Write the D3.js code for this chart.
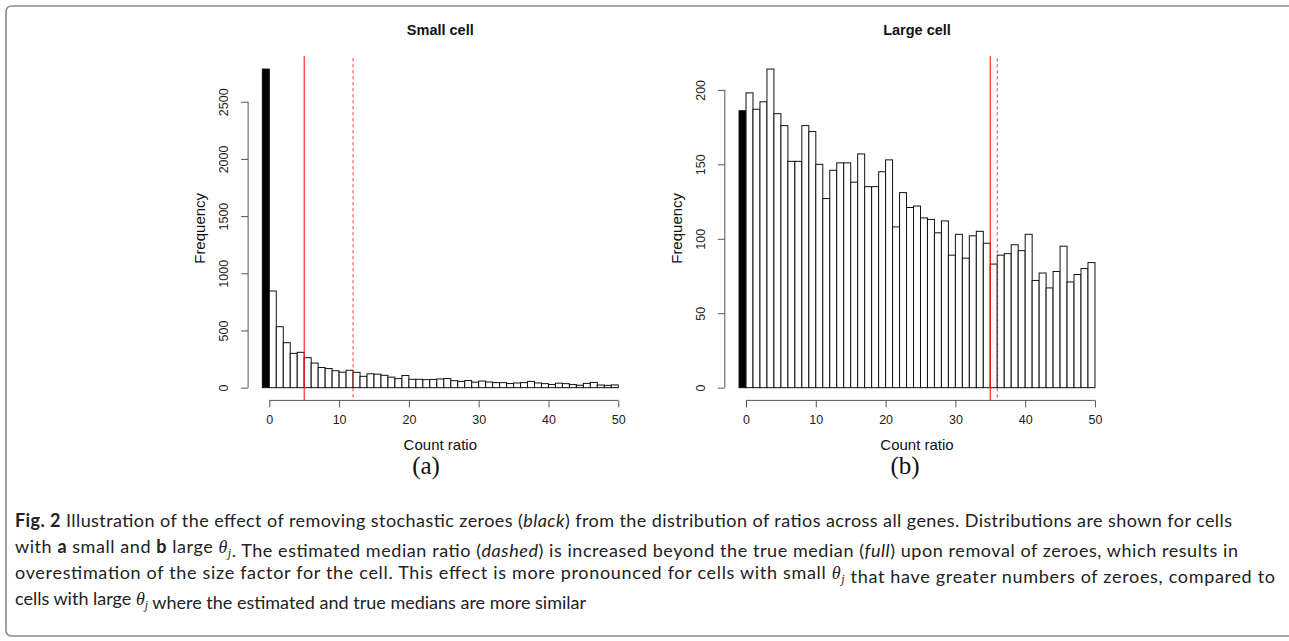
<!DOCTYPE html>
<html>
<head>
<meta charset="utf-8">
<script src="https://cdn.jsdelivr.net/npm/d3@7/dist/d3.min.js"></script>
<style>
  html, body { margin: 0; padding: 0; background: #fff; }
  svg { display: block; }
</style>
</head>
<body>
<svg id="fig" width="1289" height="641"></svg>
<script>
// ---------------- DATA ----------------
const panelTitles = ["Small cell", "Large cell"];
const panelLetters = ["(a)", "(b)"];
// Count of stochastic zeroes (black bar, bin [-1,0])
const smallZero = 2786;
const largeZero = 186;
// Frequencies for bins [0,1), [1,2), ... [49,50)
const smallCounts = [845, 533, 393, 300, 309, 262, 215, 176, 167, 148,
                     135, 152, 134, 99, 121, 118, 108, 92, 79, 106,
                     73, 73, 70, 72, 76, 80, 61, 55, 62, 48,
                     58, 49, 44, 44, 36, 41, 44, 55, 41, 35,
                     27, 39, 35, 27, 21, 37, 46, 23, 20, 24];
const largeCounts = [198, 187, 192, 214, 184, 176, 152, 152, 176, 172,
                     150, 127, 146, 151, 151, 138, 157, 135, 135, 145,
                     153, 108, 131, 121, 122, 114, 113, 104, 112, 89,
                     103, 87, 102, 105, 97, 83, 89, 90, 96, 92,
                     103, 72, 77, 67, 78, 95, 71, 76, 80, 84];
// medians: true (full) and estimated after removing zeroes (dashed)
const trueMedians = [5, 35];
const estMedians = [12, 36];
const smallYTicks = [0, 500, 1000, 1500, 2000, 2500];
const largeYTicks = [0, 50, 100, 150, 200];
const xTicks = [0, 10, 20, 30, 40, 50];
const xLabel = "Count ratio";
const yLabel = "Frequency";

// ---------------- LAYOUT ----------------
const svg = d3.select("#fig");
const plotTop = 56.3, plotBottom = 400.4, plotW = 384.4;
const plotLefts = [248.1, 724.8];
const letterX = [426, 905];

// rounded frame
svg.append("path")
  .attr("d", "M1295,6 L12,6 Q6,6 6,12 L6,630 Q6,636 12,636 L1295,636")
  .attr("fill", "none").attr("stroke", "#8a8a8a").attr("stroke-width", 1.6);

const panels = [
  {zero: smallZero, counts: smallCounts, yTicks: smallYTicks},
  {zero: largeZero, counts: largeCounts, yTicks: largeYTicks}
];

panels.forEach((p, i) => {
  const x0 = plotLefts[i];
  const n = p.counts.length;
  const xmin = -1, xmax = n;
  const xpad = (xmax - xmin) * 0.04;
  const x = d3.scaleLinear().domain([xmin - xpad, xmax + xpad]).range([x0, x0 + plotW]);
  const ymax = d3.max([p.zero, d3.max(p.counts)]);
  const y = d3.scaleLinear().domain([-0.04 * ymax, 1.04 * ymax]).range([plotBottom, plotTop]);
  const g = svg.append("g");

  const bins = [{x0: -1, x1: 0, v: p.zero, zero: true}]
    .concat(p.counts.map((v, k) => ({x0: k, x1: k + 1, v: v, zero: false})));

  g.selectAll("rect.bar").data(bins).enter().append("rect")
    .attr("class", "bar")
    .attr("x", d => x(d.x0))
    .attr("width", d => x(d.x1) - x(d.x0))
    .attr("y", d => y(d.v))
    .attr("height", d => y(0) - y(d.v))
    .attr("fill", d => d.zero ? "#000" : "#fff")
    .attr("stroke", "#111")
    .attr("stroke-width", 1);

  // median lines
  g.append("line")
    .attr("x1", x(trueMedians[i])).attr("x2", x(trueMedians[i]))
    .attr("y1", plotTop).attr("y2", plotBottom)
    .attr("stroke", "#ff1a1a").attr("stroke-width", 1.1);
  g.append("line")
    .attr("x1", x(estMedians[i])).attr("x2", x(estMedians[i]))
    .attr("y1", plotTop + 2).attr("y2", plotBottom)
    .attr("stroke", "#ff3030").attr("stroke-width", 1)
    .attr("stroke-dasharray", "3,3");

  // y axis (R style, rotated labels)
  const yAxis = d3.axisLeft(y).tickValues(p.yTicks).tickFormat(d3.format("d"))
    .tickSize(7).tickSizeOuter(0).tickPadding(8);
  const ya = g.append("g").attr("transform", `translate(${x0},0)`).call(yAxis);
  ya.select(".domain").attr("d", `M0,${y(p.yTicks[0])}V${y(p.yTicks[p.yTicks.length - 1])}`)
    .attr("stroke", "#555");
  ya.selectAll(".tick line").attr("stroke", "#555");
  ya.selectAll(".tick text")
    .attr("font-family", "Liberation Sans, Arial, sans-serif").attr("font-size", 12.5)
    .attr("fill", "#222")
    .attr("x", null).attr("dy", null)
    .attr("text-anchor", "middle")
    .attr("transform", "translate(-20,0) rotate(-90)")
    .attr("y", 0);

  // x axis
  const xAxis = d3.axisBottom(x).tickValues(xTicks).tickFormat(d3.format("d"))
    .tickSize(7).tickSizeOuter(0).tickPadding(8);
  const xa = g.append("g").attr("transform", `translate(0,${plotBottom})`).call(xAxis);
  xa.select(".domain").attr("d", `M${x(xTicks[0])},0H${x(xTicks[xTicks.length - 1])}`)
    .attr("stroke", "#555");
  xa.selectAll(".tick line").attr("stroke", "#555");
  xa.selectAll(".tick text")
    .attr("font-family", "Liberation Sans, Arial, sans-serif").attr("font-size", 12.5)
    .attr("fill", "#222");

  const cx = x0 + plotW / 2;
  // title
  g.append("text").attr("x", cx).attr("y", 35)
    .attr("text-anchor", "middle")
    .attr("font-family", "Liberation Sans, Arial, sans-serif")
    .attr("font-weight", "bold").attr("font-size", 14.5).attr("fill", "#111")
    .text(panelTitles[i]);
  // x label
  g.append("text").attr("x", cx).attr("y", 450)
    .attr("text-anchor", "middle")
    .attr("font-family", "Liberation Sans, Arial, sans-serif")
    .attr("font-size", 15).attr("fill", "#111")
    .text(xLabel);
  // y label
  g.append("text")
    .attr("transform", `translate(${x0 - 43},${(plotTop + plotBottom) / 2}) rotate(-90)`)
    .attr("text-anchor", "middle")
    .attr("font-family", "Liberation Sans, Arial, sans-serif")
    .attr("font-size", 15).attr("fill", "#111")
    .text(yLabel);
  // panel letter
  g.append("text").attr("x", letterX[i]).attr("y", 474)
    .attr("text-anchor", "middle")
    .attr("font-family", "Liberation Serif, Times New Roman, serif")
    .attr("font-size", 25).attr("fill", "#111")
    .text(panelLetters[i]);
});

// ---------------- CAPTION ----------------
const TH = {theta: true};
const captionLines = [
  {w: 1217, segs: [["Fig. 2", "b"], [" Illustration of the effect of removing stochastic zeroes (", ""], ["black", "i"], [") from the distribution of ratios across all genes. Distributions are shown for cells", ""]]},
  {w: 1223, segs: [["with ", ""], ["a", "b"], [" small and ", ""], ["b", "b"], [" large ", ""], TH, [". The estimated median ratio (", ""], ["dashed", "i"], [") is increased beyond the true median (", ""], ["full", "i"], [") upon removal of zeroes, which results in", ""]]},
  {w: 1260, segs: [["overestimation of the size factor for the cell. This effect is more pronounced for cells with small ", ""], TH, [" that have greater numbers of zeroes, compared to", ""]]},
  {w: null, segs: [["cells with large ", ""], TH, [" where the estimated and true medians are more similar", ""]]}
];
const capX = 15, capY0 = 527, capDY = 26;
const capTexts = captionLines.map((ln, li) => {
  const t = svg.append("text")
    .attr("x", capX).attr("y", capY0 + li * capDY)
    .attr("font-family", "Lato, Open Sans, Noto Sans, sans-serif")
    .attr("font-size", 16).attr("fill", "#222")
    .attr("xml:space", "preserve");
  ln.segs.forEach(s => {
    if (s.theta) {
      t.append("tspan").attr("font-family", "Liberation Serif, serif").attr("font-style", "italic")
        .attr("font-size", 18).text("θ");
      t.append("tspan").attr("font-family", "Liberation Serif, serif").attr("font-style", "italic")
        .attr("font-size", 12).attr("dy", 4).text("j");
      t.append("tspan").attr("dy", -4).text("");
    } else {
      const sp = t.append("tspan").text(s[0]);
      if (s[1] === "b") sp.attr("font-weight", "bold");
      if (s[1] === "i") sp.attr("font-style", "italic");
    }
  });
  return t;
});
// choose one font size so that the first line naturally fits its width
const nat0 = capTexts[0].node().getComputedTextLength();
const fs = Math.max(13, Math.min(18, 16 * captionLines[0].w / nat0));
capTexts.forEach((t, li) => {
  t.attr("font-size", fs);
  const w = captionLines[li].w;
  if (w) t.attr("textLength", w).attr("lengthAdjust", "spacing");
});
</script>
</body>
</html>
